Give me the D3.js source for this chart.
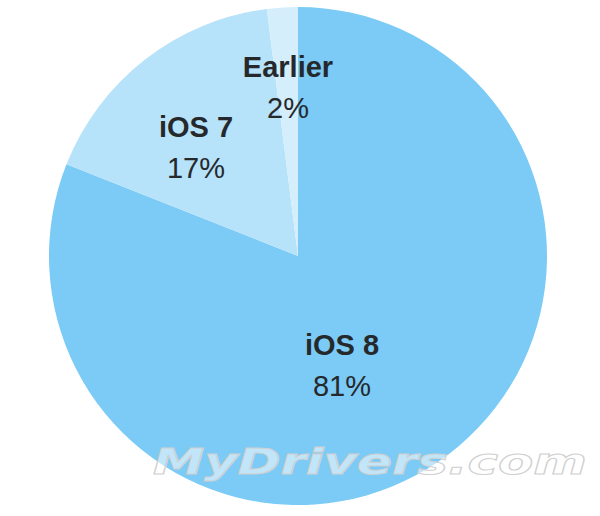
<!DOCTYPE html>
<html>
<head>
<meta charset="utf-8">
<script src="https://cdn.jsdelivr.net/npm/d3@7"></script>
<style>
  html, body { margin: 0; padding: 0; background: #fff; }
  svg { display: block; }
</style>
</head>
<body>
<svg id="chart" width="600" height="516"></svg>
<script>
const categories = ["iOS 8", "iOS 7", "Earlier"];
const values = [81, 17, 2];
const valueLabels = ["81%", "17%", "2%"];
const colors = ["#7bcbf6", "#b6e2fa", "#d4eefc"];
const watermark = "MyDrivers.com";

const svg = d3.select("#chart");
const cx = 298, cy = 256, r = 249;
const g = svg.append("g").attr("transform", `translate(${cx},${cy})`);

const pie = d3.pie().sort(null).value(d => d)
  .startAngle(0).endAngle(2 * Math.PI);
const arcs = pie(values);
const arc = d3.arc().innerRadius(0).outerRadius(r);

g.selectAll("path.slice").data(arcs).enter().append("path")
  .attr("class", "slice")
  .attr("d", arc)
  .attr("fill", (d, i) => colors[i]);

const font = "'Liberation Sans', Arial, Helvetica, sans-serif";
// label anchor points (absolute px in the picture)
const labelAnchors = [[342, 355], [196, 137], [288, 77]];

arcs.forEach((d, i) => {
  const x = labelAnchors[i][0] - cx, y = labelAnchors[i][1] - cy;
  const t = g.append("g").attr("transform", `translate(${x},${y})`);
  t.append("text")
    .attr("text-anchor", "middle")
    .attr("font-family", font)
    .attr("font-weight", "bold")
    .attr("font-size", 29)
    .attr("fill", "#26292c")
    .text(categories[i]);
  t.append("text")
    .attr("text-anchor", "middle")
    .attr("y", 41)
    .attr("font-family", font)
    .attr("font-size", 29)
    .attr("fill", "#26292c")
    .text(valueLabels[i]);
});

// watermark
svg.append("text")
  .attr("x", 153)
  .attr("y", 474)
  .attr("textLength", 434)
  .attr("lengthAdjust", "spacingAndGlyphs")
  .attr("font-family", "'DejaVu Sans', sans-serif")
  .attr("font-weight", "bold")
  .attr("font-style", "italic")
  .attr("font-size", 36)
  .attr("fill", "#ffffff")
  .attr("fill-opacity", 0.55)
  .attr("stroke", "#d0d0d0")
  .attr("stroke-width", 1)
  .text(watermark);
</script>
</body>
</html>
